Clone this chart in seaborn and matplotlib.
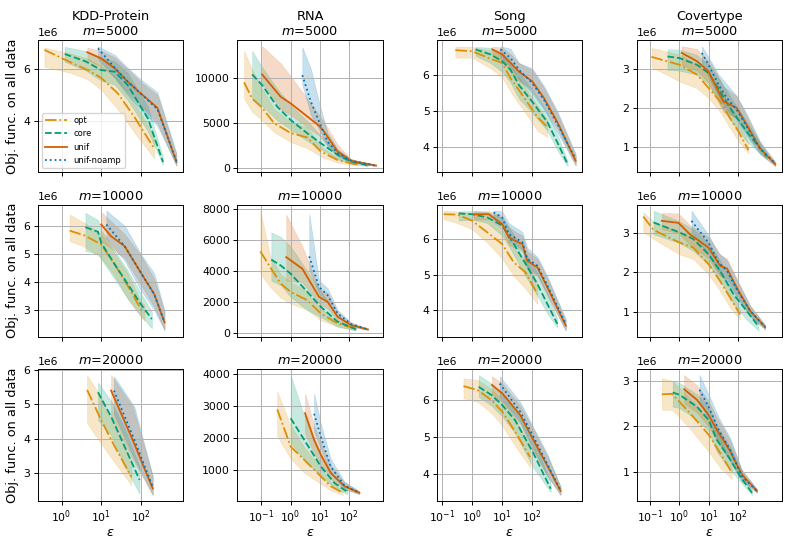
import numpy as np
import seaborn as sns
import matplotlib.pyplot as plt
from matplotlib.ticker import MultipleLocator, NullLocator

datasets = ["KDD-Protein", "RNA", "Song", "Covertype"]
sample_sizes = [5000, 10000, 20000]
methods = ["opt", "core", "unif", "unif-noamp"]

# y values of KDD, Song, Covertype are in units of 1e6
y_scale = {"KDD-Protein": 1e6, "RNA": 1, "Song": 1e6, "Covertype": 1e6}

# each method: (epsilon, mean, lower, upper)
kdd_5000 = {
    "opt": ([0.37, 1.74, 4.57, 10, 26.3, 69, 219],
            [6.74, 6.25, 5.96, 5.66, 5.06, 4.15, 2.93],
            [6.09, 5.85, 5.60, 5.20, 4.45, 3.55, 2.55],
            [6.83, 6.60, 6.40, 6.10, 5.60, 4.70, 3.40]),
    "core": ([1.2, 4.0, 10, 21.9, 46.8, 151, 363],
             [6.58, 6.30, 5.96, 5.90, 5.38, 4.09, 2.41],
             [6.28, 5.95, 5.55, 5.40, 4.80, 3.60, 2.30],
             [6.86, 6.70, 6.45, 6.30, 5.85, 4.55, 2.60]),
    "unif": ([4.47, 10, 21.9, 46.8, 100, 263, 794],
             [6.65, 6.41, 6.03, 5.51, 5.06, 4.50, 2.41],
             [6.35, 6.10, 5.70, 5.10, 4.60, 3.90, 2.25],
             [6.83, 6.70, 6.45, 6.00, 5.50, 5.00, 2.70]),
    "unif-noamp": ([8.3, 21.9, 46.8, 100, 263, 794],
                   [6.80, 6.05, 5.52, 5.05, 4.45, 2.45],
                   [6.40, 5.65, 5.00, 4.45, 3.80, 2.28],
                   [6.88, 6.55, 6.05, 5.60, 5.10, 2.75]),
}

rna_5000 = {
    "opt": ([0.026, 0.049, 0.107, 0.27, 1.0, 3.7, 10.7, 40, 195],
            [9500, 7700, 6700, 5000, 3900, 3400, 1850, 900, 370],
            [7700, 6250, 5300, 4000, 2900, 2200, 1300, 600, 280],
            [13000, 10900, 8800, 6600, 5100, 4500, 2400, 1200, 450]),
    "core": ([0.049, 0.107, 0.35, 1.0, 3.7, 10.7, 40, 115, 427],
             [10380, 9200, 6800, 5340, 3860, 2760, 1470, 740, 300],
             [7700, 6900, 5300, 4300, 3000, 2100, 1000, 500, 220],
             [13000, 11200, 8800, 7000, 5200, 3600, 2000, 1000, 380]),
    "unif": ([0.107, 0.46, 1.0, 9.3, 13.8, 40, 115, 813],
             [10380, 7900, 7180, 4700, 4050, 1840, 810, 300],
             [9400, 6500, 5900, 3600, 3000, 1400, 650, 250],
             [13500, 11600, 10200, 5900, 5100, 2600, 1000, 350]),
    "unif-noamp": ([2.5, 4.9, 9.3, 18.2, 40, 115, 724],
                   [10300, 7360, 5150, 2940, 1660, 810, 300],
                   [9200, 5900, 4300, 2400, 1300, 650, 250],
                   [13400, 11000, 7300, 3900, 2100, 1000, 350]),
}

song_5000 = {
    "opt": ([0.28, 1.0, 4.1, 10, 19, 36, 78, 148, 316],
            [6.71, 6.68, 6.47, 6.35, 5.92, 5.59, 5.17, 4.83, 4.55],
            [6.50, 6.50, 6.20, 5.95, 5.55, 5.20, 4.80, 4.45, 4.27],
            [6.81, 6.80, 6.70, 6.55, 6.25, 5.95, 5.50, 5.15, 4.75]),
    "core": ([1.3, 4.1, 10, 19, 36, 100, 316, 676, 1480],
             [6.73, 6.59, 6.40, 6.16, 5.73, 5.26, 4.69, 4.12, 3.51],
             [6.55, 6.35, 6.10, 5.80, 5.35, 4.95, 4.45, 3.90, 3.45],
             [6.80, 6.78, 6.65, 6.40, 6.10, 5.60, 4.95, 4.35, 3.60]),
    "unif": ([4.7, 10, 19, 36, 100, 245, 676, 2750],
             [6.73, 6.59, 6.35, 6.11, 5.83, 5.36, 4.69, 3.60],
             [6.55, 6.40, 6.10, 5.85, 5.60, 5.10, 4.50, 3.47],
             [6.81, 6.78, 6.60, 6.35, 6.15, 5.65, 4.95, 3.75]),
    "unif-noamp": ([8.7, 19, 36, 100, 245, 676, 2750],
                   [6.73, 6.49, 6.16, 5.78, 5.31, 4.64, 3.65],
                   [6.50, 6.25, 5.90, 5.50, 5.05, 4.40, 3.47],
                   [6.82, 6.75, 6.35, 6.20, 5.70, 5.00, 3.80]),
}

cov_5000 = {
    "opt": ([0.11, 1.0, 4.0, 10, 25, 55, 107, 234],
            [3.30, 3.10, 2.85, 2.51, 2.17, 1.74, 1.40, 0.93],
            [3.04, 2.68, 2.50, 2.25, 1.90, 1.49, 1.15, 0.85],
            [3.53, 3.36, 3.10, 2.85, 2.50, 2.05, 1.65, 1.10]),
    "core": ([0.39, 1.0, 4.0, 10, 25, 55, 204, 1000],
             [3.31, 3.27, 3.10, 2.89, 2.42, 2.00, 1.40, 0.76],
             [2.97, 2.95, 2.85, 2.60, 2.10, 1.70, 1.15, 0.70],
             [3.49, 3.49, 3.35, 3.10, 2.70, 2.30, 1.65, 0.85]),
    "unif": ([1.2, 4.0, 10, 17, 32, 93, 204, 589, 1950],
             [3.40, 3.19, 2.93, 2.59, 2.17, 2.00, 1.57, 0.97, 0.57],
             [3.10, 2.95, 2.65, 2.30, 1.90, 1.75, 1.35, 0.85, 0.52],
             [3.57, 3.50, 3.20, 2.95, 2.55, 2.30, 1.80, 1.10, 0.62]),
    "unif-noamp": ([5.9, 10, 22, 43, 93, 204, 589, 1950],
                   [3.40, 3.10, 2.59, 2.25, 1.95, 1.53, 0.97, 0.59],
                   [3.15, 2.80, 2.30, 1.95, 1.70, 1.30, 0.82, 0.52],
                   [3.57, 3.30, 2.85, 2.60, 2.30, 1.85, 1.15, 0.63]),
}

kdd_10000 = {
    "opt": ([1.6, 3.8, 10, 22, 47, 100, 123],
            [5.82, 5.65, 5.33, 4.62, 3.86, 3.04, 2.92],
            [5.45, 5.25, 4.86, 4.20, 3.40, 2.75, 2.62],
            [6.39, 6.10, 5.70, 5.00, 4.30, 3.30, 3.20]),
    "core": ([4.0, 8.3, 10, 22, 47, 100, 190],
             [5.94, 5.78, 5.39, 4.62, 3.92, 3.21, 2.68],
             [5.10, 5.00, 4.80, 4.10, 3.40, 2.80, 2.35],
             [6.45, 6.20, 5.85, 5.10, 4.40, 3.60, 2.95]),
    "unif": ([10, 17.8, 39, 100, 219, 398],
             [6.04, 5.62, 5.27, 4.33, 3.56, 2.56],
             [5.45, 5.20, 4.85, 3.90, 3.10, 2.30],
             [6.48, 6.15, 5.70, 4.95, 4.10, 2.95]),
    "unif-noamp": ([13.5, 39, 100, 219, 398],
                   [6.04, 5.27, 4.33, 3.56, 2.56],
                   [5.55, 4.75, 3.70, 3.00, 2.27],
                   [6.53, 6.00, 5.00, 4.30, 2.98]),
}

rna_10000 = {
    "opt": ([0.093, 0.2, 0.46, 1.0, 3.7, 10.7, 40, 148],
            [5270, 4270, 3200, 2670, 2130, 1280, 640, 320],
            [3840, 2990, 2300, 1920, 1500, 850, 420, 210],
            [7890, 5000, 3800, 3300, 2700, 1600, 800, 400]),
    "core": ([0.22, 0.46, 1.0, 3.7, 10.7, 40, 170],
             [4740, 4370, 3840, 2670, 1710, 750, 260],
             [3400, 3100, 2350, 1500, 1050, 450, 180],
             [6500, 6200, 5600, 4000, 2700, 1100, 340]),
    "unif": ([0.71, 2.5, 9.3, 18.2, 40, 115, 427],
             [4900, 4160, 2350, 2030, 1070, 530, 260],
             [3400, 3300, 1900, 1600, 850, 420, 220],
             [7640, 5600, 2900, 2600, 1350, 650, 300]),
    "unif-noamp": ([4.3, 9.3, 18.2, 40, 115, 427],
                   [4950, 2990, 2450, 1280, 600, 260],
                   [4050, 2600, 2100, 1050, 480, 220],
                   [7680, 3400, 2900, 1500, 720, 300]),
}

song_10000 = {
    "opt": ([0.115, 0.32, 1.0, 3.2, 10, 24.5, 60, 148],
            [6.70, 6.69, 6.52, 6.19, 5.86, 5.34, 5.06, 4.45],
            [6.56, 6.45, 6.28, 5.90, 5.45, 4.95, 4.60, 4.17],
            [6.80, 6.78, 6.72, 6.55, 6.20, 5.75, 5.40, 4.75]),
    "core": ([0.36, 1.0, 3.2, 10, 21, 60, 148, 316, 676],
             [6.72, 6.70, 6.61, 6.38, 5.95, 5.30, 4.73, 4.17, 3.61],
             [6.52, 6.55, 6.45, 6.10, 5.65, 4.95, 4.40, 3.90, 3.50],
             [6.78, 6.79, 6.76, 6.60, 6.20, 5.60, 5.05, 4.45, 3.75]),
    "unif": ([1.15, 3.6, 10, 16.6, 27.5, 47, 68, 148, 316, 1290],
             [6.70, 6.70, 6.42, 6.05, 5.95, 5.86, 5.39, 5.20, 4.64, 3.56],
             [6.55, 6.55, 6.25, 5.85, 5.75, 5.65, 5.15, 4.95, 4.40, 3.42],
             [6.79, 6.79, 6.65, 6.35, 6.20, 6.10, 5.65, 5.45, 4.90, 3.70]),
    "unif-noamp": ([5.2, 10, 16.6, 47, 68, 148, 316, 1290],
                   [6.75, 6.61, 6.14, 5.91, 5.44, 5.25, 4.69, 3.61],
                   [6.55, 6.40, 5.95, 5.70, 5.20, 5.00, 4.45, 3.42],
                   [6.80, 6.78, 6.45, 6.20, 5.75, 5.50, 4.95, 3.75]),
}

cov_10000 = {
    "opt": ([0.058, 0.13, 1.0, 3.0, 10, 25, 55, 120],
            [3.42, 3.08, 2.76, 2.63, 2.21, 1.78, 1.36, 0.93],
            [3.02, 2.85, 2.46, 2.34, 1.95, 1.53, 1.10, 0.80],
            [3.53, 3.30, 3.02, 2.90, 2.50, 2.05, 1.60, 1.05]),
    "core": ([0.13, 1.0, 3.0, 10, 25, 72, 204, 513],
             [3.27, 3.02, 2.85, 2.46, 2.04, 1.44, 1.02, 0.63],
             [2.97, 2.75, 2.55, 2.20, 1.80, 1.20, 0.80, 0.52],
             [3.57, 3.30, 3.10, 2.75, 2.30, 1.70, 1.20, 0.72]),
    "unif": ([0.25, 0.93, 2.3, 10, 25, 43, 93, 269, 871],
             [3.31, 3.26, 2.97, 2.63, 2.17, 2.10, 1.61, 1.02, 0.61],
             [3.10, 3.00, 2.70, 2.35, 1.90, 1.85, 1.40, 0.90, 0.55],
             [3.51, 3.50, 3.20, 2.90, 2.45, 2.35, 1.85, 1.15, 0.66]),
    "unif-noamp": ([2.6, 10, 22, 43, 93, 269, 871],
                   [3.31, 2.76, 2.25, 2.04, 1.57, 1.02, 0.61],
                   [3.02, 2.45, 2.00, 1.75, 1.35, 0.88, 0.55],
                   [3.57, 2.95, 2.50, 2.30, 1.80, 1.15, 0.67]),
}

kdd_20000 = {
    "opt": ([4.4, 10, 22, 58],
            [5.42, 4.54, 3.77, 2.89],
            [4.45, 3.85, 3.30, 2.65],
            [5.85, 5.20, 4.30, 3.38]),
    "core": ([8.3, 17.8, 39, 93],
             [5.35, 4.64, 3.77, 2.80],
             [4.54, 4.10, 3.20, 2.40],
             [5.63, 5.10, 4.30, 3.18]),
    "unif": ([17.8, 63, 200],
             [5.40, 3.95, 2.55],
             [4.60, 3.40, 2.36],
             [5.85, 4.93, 2.90]),
    "unif-noamp": ([21, 69, 200],
                   [5.40, 3.96, 2.60],
                   [4.70, 3.40, 2.36],
                   [5.82, 4.93, 2.92]),
}

rna_20000 = {
    "opt": ([0.35, 1.0, 2.9, 10.7, 23, 59],
            [2900, 1730, 1310, 790, 480, 270],
            [2050, 1350, 900, 550, 350, 200],
            [3460, 2400, 1700, 1050, 620, 330]),
    "core": ([1.0, 2.9, 10.7, 31, 87],
             [2620, 1940, 1100, 580, 290],
             [1850, 1300, 800, 430, 220],
             [3980, 2700, 1500, 750, 360]),
    "unif": ([3.1, 6.3, 10.7, 23, 68, 219],
             [2780, 1940, 1470, 900, 480, 270],
             [2150, 1500, 1150, 700, 370, 230],
             [3400, 2400, 1850, 1150, 600, 320]),
    "unif-noamp": ([6.3, 10.7, 23, 68, 219],
                   [2760, 2040, 1100, 500, 270],
                   [2200, 1650, 880, 400, 230],
                   [3400, 2450, 1350, 620, 320]),
}

song_20000 = {
    "opt": ([0.52, 1.55, 4.4, 10.2, 27, 85],
            [6.38, 6.27, 6.00, 5.68, 5.14, 4.45],
            [6.05, 5.95, 5.65, 5.30, 4.75, 4.18],
            [6.59, 6.55, 6.30, 6.00, 5.50, 4.73]),
    "core": ([1.66, 4.4, 10.2, 27, 110, 407],
             [6.36, 6.14, 5.86, 5.45, 4.55, 3.59],
             [6.09, 5.85, 5.55, 5.10, 4.15, 3.50],
             [6.68, 6.45, 6.15, 5.75, 4.95, 3.75]),
    "unif": ([4.6, 10.2, 40, 110, 309, 871],
             [6.41, 6.18, 5.59, 4.91, 4.23, 3.53],
             [6.15, 5.95, 5.35, 4.60, 3.95, 3.42],
             [6.65, 6.45, 5.85, 5.20, 4.50, 3.65]),
    "unif-noamp": ([8.3, 40, 110, 309, 871],
                   [6.45, 5.68, 5.00, 4.27, 3.55],
                   [6.10, 5.40, 4.65, 3.95, 3.42],
                   [6.65, 5.95, 5.25, 4.55, 3.65]),
}

cov_20000 = {
    "opt": ([0.25, 0.55, 1.0, 2.3, 10, 25, 63],
            [2.70, 2.71, 2.54, 2.29, 1.82, 1.42, 0.99],
            [2.36, 2.36, 2.20, 1.95, 1.45, 1.10, 0.85],
            [3.05, 3.00, 2.85, 2.60, 2.15, 1.75, 1.15]),
    "core": ([0.59, 1.0, 4.0, 10, 19, 55, 120, 309],
             [2.74, 2.69, 2.43, 2.14, 1.71, 1.28, 0.91, 0.55],
             [2.43, 2.40, 2.15, 1.90, 1.45, 1.05, 0.80, 0.50],
             [2.98, 2.95, 2.70, 2.45, 2.00, 1.55, 1.10, 0.60]),
    "unif": ([1.45, 4.0, 10, 19, 55, 138, 457],
             [2.81, 2.58, 2.25, 1.93, 1.46, 0.95, 0.59],
             [2.50, 2.30, 2.00, 1.70, 1.25, 0.85, 0.55],
             [3.12, 2.90, 2.55, 2.20, 1.70, 1.05, 0.63]),
    "unif-noamp": ([4.9, 10, 22, 55, 138, 457],
                   [2.80, 2.43, 1.93, 1.49, 0.91, 0.59],
                   [2.54, 2.15, 1.65, 1.25, 0.80, 0.55],
                   [3.12, 2.70, 2.20, 1.75, 1.05, 0.63]),
}

panels = [
    [kdd_5000, rna_5000, song_5000, cov_5000],
    [kdd_10000, rna_10000, song_10000, cov_10000],
    [kdd_20000, rna_20000, song_20000, cov_20000],
]

# y tick spacing per panel (raw units)
y_steps = [
    [2e6, 5000, 1e6, 1e6],
    [1e6, 2000, 1e6, 1e6],
    [1e6, 1000, 1e6, 1e6],
]

palette = sns.color_palette("colorblind")
colors = {"opt": palette[1], "core": palette[2], "unif": palette[3], "unif-noamp": palette[0]}
styles = {"opt": "-.", "core": "--", "unif": "-", "unif-noamp": ":"}

plt.rcParams.update({
    "xtick.labelsize": 7.8,
    "ytick.labelsize": 7.8,
    "xtick.major.size": 2.8,
    "ytick.major.size": 2.8,
    "xtick.major.pad": 2.4,
    "ytick.major.pad": 2.6,
    "xtick.major.width": 0.7,
    "ytick.major.width": 0.7,
    "axes.linewidth": 0.7,
    "grid.linewidth": 0.7,
    "axes.labelpad": 3,
})

fig, axes = plt.subplots(3, 4, figsize=(7.89, 5.44), sharex="col")
fig.subplots_adjust(left=0.048, right=0.991, top=0.926, bottom=0.079,
                    wspace=0.375, hspace=0.246)

for r, m in enumerate(sample_sizes):
    for c, name in enumerate(datasets):
        ax = axes[r, c]
        ax.set_xscale("log")
        scale = y_scale[name]
        panel = panels[r][c]
        for meth in methods:
            eps, mean, lo, hi = panel[meth]
            ax.fill_between(eps, np.array(lo) * scale, np.array(hi) * scale,
                            color=colors[meth], alpha=0.22, linewidth=0.4)
            sns.lineplot(x=eps, y=np.array(mean) * scale, ax=ax,
                         color=colors[meth], linestyle=styles[meth],
                         linewidth=1.3, label=meth, legend=False)

        ax.grid(True)
        if c == 0:
            ax.set_xticks([1, 10, 100])
        else:
            ax.set_xticks([0.1, 1, 10, 100])
        ax.xaxis.set_minor_locator(NullLocator())
        ax.yaxis.set_major_locator(MultipleLocator(y_steps[r][c]))

        if r == 0:
            ax.set_title(f"{name}\n$m$={m}", fontsize=9.3, pad=3.5)
        else:
            ax.set_title(f"$m$={m}", fontsize=9.3, pad=3.5)

        if c == 0:
            ax.set_ylabel("Obj. func. on all data", fontsize=9.3)
        else:
            ax.set_ylabel("")
        if r == 2:
            ax.set_xlabel(r"$\epsilon$", fontsize=9.3, labelpad=1)
        else:
            ax.set_xlabel("")

axes[0, 0].legend(loc="lower left", fontsize=6, handlelength=2.6)

plt.savefig("out.png", dpi=100)
plt.close()
